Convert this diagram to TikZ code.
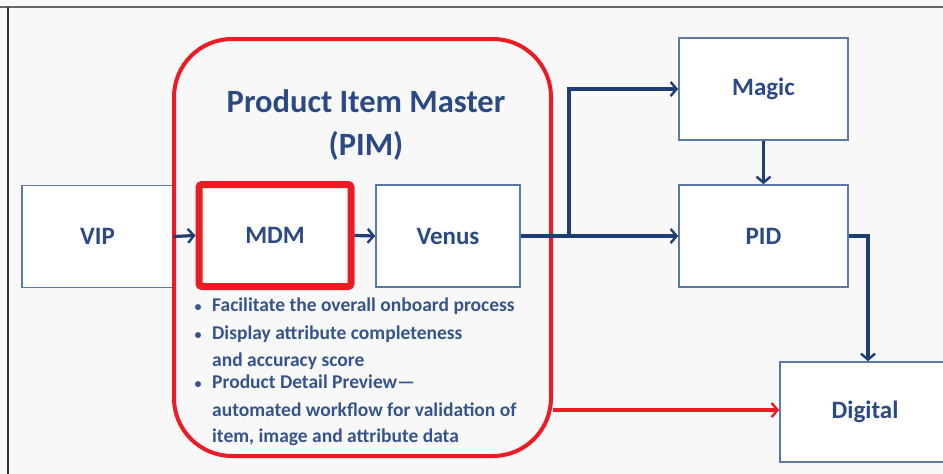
\documentclass[tikz,border=0pt]{standalone}
\usepackage{fontspec}
\setmainfont{Carlito}
\usetikzlibrary{arrows.meta,calc}
\definecolor{navytext}{HTML}{2B4A85}
\definecolor{bullettext}{HTML}{36548C}
\definecolor{conn}{HTML}{1F3E73}
\definecolor{boxline}{HTML}{5B78A6}
\definecolor{pimred}{HTML}{EC1C24}
\definecolor{bg}{HTML}{F8F8F8}
\tikzset{
  sysbox/.style={draw=boxline, line width=1.6pt, fill=white, minimum width=#1, minimum height=102pt, inner sep=0pt,
    font=\fontsize{25}{28}\selectfont\bfseries, text=navytext},
  conn/.style={draw=conn, line width=3.2pt, -{Straight Barb[length=6pt,width=14pt,line width=2.4pt]}},
  redconn/.style={draw=pimred, line width=3.2pt, -{Straight Barb[length=6pt,width=14pt,line width=2.4pt]}},
  bul/.style={anchor=base west, inner sep=0pt, font=\fontsize{19.5}{22}\selectfont\bfseries, text=bullettext},
  dot/.style={anchor=base, inner sep=0pt, font=\fontsize{14}{16}\selectfont\bfseries, text=bullettext},
  ttl/.style={anchor=base, inner sep=0pt, font=\fontsize{32.5}{36}\selectfont\bfseries, text=navytext},
}
\begin{document}
\begin{tikzpicture}[x=1pt,y=-1pt]
\useasboundingbox (0,0) rectangle (943,474);
\fill[bg] (0,0) rectangle (943,474);
\draw[draw=gray!80!black, line width=2pt] (0,7) -- (943,7);
\draw[draw=black!80, line width=2pt] (8,7) -- (8,474);

% boxes
\node[sysbox=151pt] (vip) at (97.5,236.5) {VIP};
\node[sysbox=144pt] (venus) at (448,236) {Venus};
\node[sysbox=169pt] (magic) at (763.5,89) {Magic};
\node[sysbox=169pt] (pid) at (763.5,236) {PID};
\node[sysbox=170pt, minimum height=100pt] (digital) at (865,412) {Digital};

% PIM container
\node[draw=pimred, line width=4pt, rounded corners=58pt, minimum width=377pt, minimum height=417pt, inner sep=0pt] (pim) at (362.5,247.5) {};
\node[ttl] (title1) at (366,112) {Product Item Master};
\node[ttl] (title2) at (366,155) {(PIM)};

% MDM
\node[draw=pimred, line width=7pt, rounded corners=3pt, fill=white, minimum width=152pt, minimum height=102pt, inner sep=0pt,
  font=\fontsize{25}{28}\selectfont\bfseries, text=navytext] (mdm) at (275,235.5) {MDM};

% bullets
\node[dot] (d1) at (198,311) {•};
\node[bul] (b1) at (212,311) {Facilitate the overall onboard process};
\node[dot] (d2) at (198,339) {•};
\node[bul] (b2) at (212,339) {Display attribute completeness};
\node[bul] (b3) at (212,366) {and accuracy score};
\node[dot] (d4) at (198,388) {•};
\node[bul] (b4) at (212,388) {Product Detail Preview—};
\node[bul] (b5) at (212,416) {automated workflow for validation of};
\node[bul] (b6) at (212,442) {item, image and attribute data};

% connectors
\coordinate (br) at (569,236);
\coordinate (dx) at (868,0);
\draw[conn] (vip.east) -- (mdm.west);
\draw[conn] (mdm.east) -- (venus.west);
\draw[conn] (venus.east) -- (pid.west);
\draw[conn] (br) |- (magic.west);
\draw[conn] (magic.south) -- (pid.north);
\draw[conn] (pid.east) -| (dx |- digital.north);
\draw[redconn] (pim.east |- 0,410) -- (digital.west |- 0,410);
\end{tikzpicture}
\end{document}
